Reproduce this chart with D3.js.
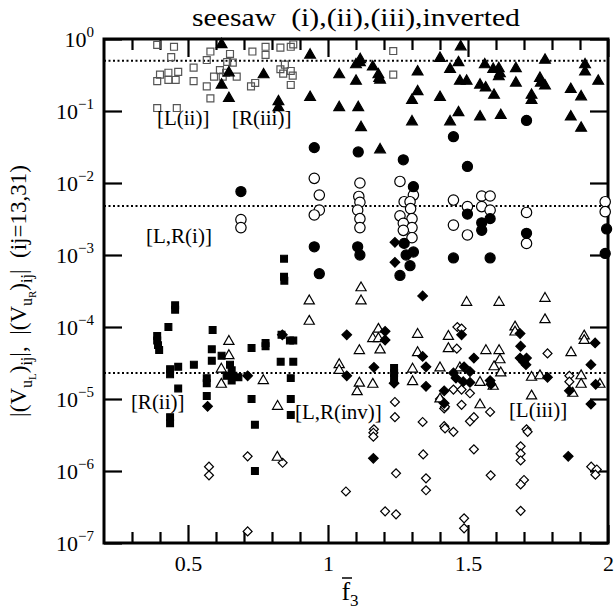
<!DOCTYPE html>
<html>
<head>
<meta charset="utf-8">
<script src="https://cdn.jsdelivr.net/npm/d3@7"></script>
<style>
  body { margin: 0; background: #fff; }
  text { font-family: "Liberation Serif", "Times New Roman", serif; fill: #000; }
</style>
</head>
<body>
<svg id="chart" width="615" height="612"></svg>
<script>
// ---- data (f3, |V|) ----
var xMajor = [0.5, 1, 1.5, 2];
var xMinor = [0.3, 0.4, 0.6, 0.7, 0.8, 0.9, 1.1, 1.2, 1.3, 1.4, 1.6, 1.7, 1.8, 1.9];
var yExps = [0, -1, -2, -3, -4, -5, -6, -7];
var refLines = [0.5, 4.8e-3, 2.3e-5];

// [L(ii)] open squares
var openSquares = [
  [0.39,0.83],[0.45,0.78],[0.44,0.56],[0.40,0.32],[0.39,0.26],[0.43,0.34],[0.43,0.27],
  [0.465,0.35],[0.456,0.27],[0.52,0.40],[0.52,0.26],[0.39,0.11],[0.46,0.11],[0.58,0.67],
  [0.567,0.51],[0.65,0.62],[0.73,0.67],[0.64,0.48],[0.66,0.47],[0.614,0.37],[0.624,0.30],
  [0.593,0.30],[0.567,0.22],[0.674,0.30],[0.58,0.15],[0.725,0.22],[0.636,0.34],[0.74,0.245],
  [0.777,0.78],[0.777,0.60],[0.83,0.76],[0.867,0.78],[0.876,0.84],[0.83,0.38],[0.84,0.33],
  [0.867,0.36],[0.874,0.31],[0.867,0.23],[0.846,0.44],[1.233,0.68],[1.233,0.32]
];

// [R(iii)] filled triangles
var filledTriangles = [
  [0.62,0.84],[0.646,0.34],[0.62,0.23],[0.646,0.15],[0.77,0.32],[0.823,0.135],[0.823,0.112],
  [0.936,0.60],[0.936,0.155],[1.04,0.32],[1.04,0.112],[1.10,0.26],[1.108,0.112],[1.118,0.059],
  [1.115,0.52],[1.10,0.44],[1.114,0.47],[1.16,0.41],[1.18,0.32],[1.183,0.285],[1.186,0.27],
  [1.32,0.35],[1.32,0.186],[1.30,0.141],[1.30,0.071],[1.40,0.54],[1.40,0.155],[1.474,0.78],
  [1.436,0.38],[1.466,0.47],[1.56,0.44],[1.59,0.38],[1.61,0.39],[1.614,0.33],[1.61,0.30],
  [1.671,0.39],[1.671,0.245],[1.775,0.51],[1.918,0.44],[1.918,0.35],[1.965,0.26],[1.471,0.26],
  [1.495,0.26],[1.543,0.23],[1.563,0.21],[1.593,0.166],[1.757,0.285],[1.76,0.245],[1.775,0.224],
  [1.727,0.166],[1.727,0.141],[1.867,0.20],[1.904,0.158],[1.466,0.095],[1.436,0.071],
  [1.543,0.083],[1.617,0.087],[1.867,0.083],[1.904,0.058],[1.186,0.029]
];

// [L,R(i)] filled circles
var filledCircles = [
  [0.689,7.6e-3],[0.951,3.1e-2],[1.108,2.7e-2],[1.269,2.1e-2],[1.448,4.4e-2],[1.709,7.4e-2],
  [1.498,1.7e-2],[0.951,1.3e-3],[0.969,5.5e-4],[1.106,1.3e-3],[1.114,1.0e-3],[1.305,8.9e-3],
  [1.272,1.45e-3],[1.305,1.1e-3],[1.279,1.0e-3],[1.293,7.1e-4],[1.257,5.2e-4],[1.498,3.7e-3],
  [1.549,2.8e-3],[1.549,2.2e-3],[1.579,3.2e-3],[1.448,9.1e-4],[1.579,9.1e-4],[1.709,2.0e-3],
  [1.995,2.3e-3],[1.99,1.05e-3]
];

// [L,R(i)] open circles
var openCircles = [
  [0.689,3.1e-3],[0.689,2.4e-3],[0.951,1.16e-2],[0.969,6.8e-3],[0.969,4.2e-3],[0.951,3.6e-3],
  [1.114,1.0e-2],[1.11,6.5e-3],[1.114,5.4e-3],[1.106,4.2e-3],[1.114,3.2e-3],[1.114,2.4e-3],
  [1.257,1.05e-2],[1.305,6.8e-3],[1.272,5.5e-3],[1.293,5.5e-3],[1.295,4.4e-3],[1.257,3.5e-3],
  [1.30,3.2e-3],[1.269,2.75e-3],[1.30,2.4e-3],[1.269,2.2e-3],[1.30,1.74e-3],[1.448,5.8e-3],
  [1.498,4.7e-3],[1.448,2.6e-3],[1.498,1.9e-3],[1.549,6.6e-3],[1.579,6.6e-3],[1.549,4.7e-3],
  [1.579,4.2e-3],[1.709,3.9e-3],[1.709,1.45e-3],[1.99,5.5e-3],[1.99,4.0e-3]
];

// [R(ii)] filled squares
var filledSquares = [
  [0.454,2.0e-4],[0.454,1.74e-4],[0.43,1.0e-4],[0.39,7.5e-5],[0.39,6.5e-5],[0.393,5.6e-5],
  [0.397,4.8e-5],[0.588,9.1e-5],[0.585,4.9e-5],[0.585,3.4e-5],[0.62,4.0e-5],[0.521,3.0e-5],
  [0.465,2.8e-5],[0.436,2.6e-5],[0.436,2.2e-5],[0.567,1.95e-5],[0.567,1.66e-5],[0.465,1.4e-5],
  [0.567,1.1e-5],[0.436,5.6e-6],[0.727,5.1e-5],[0.65,3.0e-5],[0.656,2.5e-5],[0.662,2.1e-5],
  [0.68,2.0e-5],[0.656,1.8e-5],[0.638,2.1e-5],[0.727,1.0e-5],[0.739,4.4e-6],[0.844,4.4e-4],
  [0.843,8.9e-4],[0.843,5.0e-4],[0.777,6.0e-5],[0.777,5.4e-5],[0.834,7.8e-5],[0.864,6.5e-5],
  [0.876,6.5e-5],[0.831,3.3e-5],[0.876,3.3e-5],[0.867,1.95e-5],[0.867,1.0e-5],[0.867,6.0e-6],
  [1.236,2.7e-5],[1.236,2.3e-5],[1.236,1.95e-5],[0.436,4.6e-6],[0.739,1.0e-6]
];

// [L,R(inv)] filled diamonds
var filledDiamonds = [
  [1.239,1.5e-3],[1.239,7.9e-4],[0.713,2.1e-5],[0.57,7.9e-6],[0.837,7.8e-5],[1.067,7.8e-5],
  [1.338,2.7e-4],[1.204,8.7e-5],[1.204,6.6e-5],[1.164,2.75e-5],[1.067,2.1e-5],[1.236,1.66e-5],
  [1.338,3.9e-5],[1.35,2.8e-5],[1.35,1.5e-5],[1.415,1.3e-5],[1.415,8.7e-6],[1.477,7.8e-5],
  [1.448,2.3e-5],[1.457,1.95e-5],[1.486,2.8e-5],[1.507,2.4e-5],[1.521,3.7e-5],[1.483,1.74e-5],
  [1.507,1.7e-5],[1.686,8.1e-5],[1.688,5.4e-5],[1.686,3.7e-5],[1.698,3.3e-5],[1.709,3.7e-5],
  [1.707,3.0e-5],[1.579,1.8e-5],[1.582,1.6e-5],[1.784,2.0e-5],[1.862,1.3e-5],[1.954,6.0e-5],
  [1.939,3.0e-5],[1.956,1.6e-5],[1.939,8.5e-6],[1.162,1.5e-6],[1.858,1.6e-6]
];

// [L(iii)] open triangles
var openTriangles = [
  [0.646,6.3e-5],[0.646,4.0e-5],[0.619,2.6e-5],[0.619,1.6e-5],[1.118,3.5e-4],[1.118,2.3e-4],
  [0.933,2.3e-4],[0.933,1.2e-4],[1.18,9.3e-5],[1.16,6.9e-5],[1.18,6.9e-5],[1.186,4.8e-5],
  [1.112,4.7e-5],[1.32,7.9e-5],[1.32,4.4e-5],[1.04,3.0e-5],[1.04,2.5e-5],[1.302,2.6e-5],
  [1.40,2.7e-5],[0.769,1.8e-5],[1.112,1.66e-5],[1.104,1.26e-5],[1.16,1.6e-5],[1.302,1.74e-5],
  [0.82,7.9e-6],[1.43,7.4e-5],[1.43,5.0e-5],[1.40,1.0e-5],[1.495,2.2e-4],[1.611,2.2e-4],
  [1.775,2.5e-4],[1.775,1.26e-4],[1.564,4.7e-5],[1.611,4.7e-5],[1.614,3.5e-5],[1.593,2.8e-5],
  [1.617,2.3e-5],[1.668,1.0e-4],[1.668,8.5e-5],[1.471,2.7e-5],[1.543,1.7e-5],[1.59,1.5e-5],
  [1.727,2.0e-5],[1.757,2.1e-5],[1.868,4.4e-5],[1.915,7.5e-5],[1.915,6.5e-5],[1.904,2.1e-5],
  [1.904,1.6e-5],[1.971,1.6e-5],[1.874,1.2e-5],[1.543,8.3e-6],[1.727,1.1e-5],[0.819,1.55e-6]
];

// [L,R(inv)] open diamonds
var openDiamonds = [
  [1.239,9.1e-6],[1.239,5.6e-6],[1.338,4.8e-6],[1.415,7.4e-6],[1.415,4.2e-6],[1.164,3.8e-6],
  [1.462,1.0e-4],[1.477,9.5e-5],[1.46,5.0e-5],[1.448,1.35e-5],[1.477,1.35e-5],[1.507,1.2e-5],
  [1.40,1.0e-5],[1.418,7.8e-6],[1.477,8.3e-6],[1.507,4.9e-6],[1.521,5.6e-6],[1.579,6.6e-6],
  [1.784,4.3e-5],[1.862,2.1e-5],[1.862,1.74e-5],[1.709,3.8e-6],[0.575,1.15e-6],[0.575,8.7e-7],
  [0.713,1.6e-6],[0.713,1.45e-7],[0.838,1.3e-6],[1.162,3.4e-6],[1.162,3.0e-6],[1.064,5.2e-7],
  [1.243,9.3e-7],[1.204,2.75e-7],[1.243,2.5e-7],[1.34,1.7e-6],[1.35,7.9e-7],[1.35,5.4e-7],
  [1.418,3.9e-6],[1.448,3.5e-6],[1.521,2.0e-6],[1.581,8.7e-7],[1.486,2.2e-7],[1.486,1.6e-7],
  [1.688,2.2e-6],[1.688,1.74e-6],[1.688,1.4e-6],[1.713,3.5e-6],[1.70,7.5e-7],[1.688,6.5e-7],
  [1.688,2.8e-7],[1.94,1.15e-6],[1.96,1.05e-6],[1.955,8.9e-7]
];

// group labels: text, f3, value at baseline-left
var groupLabels = [
  ["[L(ii)]", 0.389, 6.4e-2],
  ["[R(iii)]", 0.657, 6.4e-2],
  ["[L,R(i)]", 0.35, 1.47e-3],
  ["[R(ii)]", 0.296, 7.3e-6],
  ["[L,R(inv)]", 0.882, 5.3e-6],
  ["[L(iii)]", 1.646, 5.6e-6]
];

// ---- chart ----
var svg = d3.select("#chart");
var pLeft = 104, pRight = 608, pTop = 39, pBottom = 543;

var x = d3.scaleLinear().domain([0.2, 2]).range([pLeft, pRight]);
var y = d3.scaleLog().domain([1e-7, 1]).range([pBottom, pTop]);

// reference dotted lines
svg.selectAll("line.ref")
  .data(refLines)
  .enter().append("line")
    .attr("class", "ref")
    .attr("x1", pLeft).attr("x2", pRight)
    .attr("y1", function(d) { return y(d); })
    .attr("y2", function(d) { return y(d); })
    .attr("stroke", "#000")
    .attr("stroke-width", 2)
    .attr("stroke-dasharray", "2,2.5");

function tidy(g) {
  g.select(".domain").remove();
  g.selectAll(".tick line").attr("stroke", "#000").attr("stroke-width", 2.2);
}

// x ticks, bottom + top
svg.append("g").attr("transform", "translate(0," + pBottom + ")")
  .call(d3.axisBottom(x).tickValues(xMinor).tickSize(-11).tickFormat(""))
  .call(tidy);
svg.append("g").attr("transform", "translate(0," + pBottom + ")")
  .call(d3.axisBottom(x).tickValues(xMajor).tickSize(-18).tickPadding(12)
    .tickFormat(d3.format("")))
  .call(tidy)
  .selectAll("text")
    .attr("font-size", 22)
    .style("font-family", "'Liberation Serif', serif");
svg.append("g").attr("transform", "translate(0," + pTop + ")")
  .call(d3.axisTop(x).tickValues(xMinor).tickSize(-11).tickFormat(""))
  .call(tidy);
svg.append("g").attr("transform", "translate(0," + pTop + ")")
  .call(d3.axisTop(x).tickValues(xMajor).tickSize(-18).tickFormat(""))
  .call(tidy);

// y ticks, left + right
var yTickVals = yExps.map(function(e) { return Math.pow(10, e); });
var yLeft = svg.append("g").attr("transform", "translate(" + pLeft + ",0)")
  .call(d3.axisLeft(y).tickValues(yTickVals).tickSize(-18).tickPadding(10).tickFormat(""))
  .call(tidy);
svg.append("g").attr("transform", "translate(" + pRight + ",0)")
  .call(d3.axisRight(y).tickValues(yTickVals).tickSize(-18).tickFormat(""))
  .call(tidy);

// 10^n labels
yLeft.selectAll(".tick text")
  .attr("font-size", 22)
  .style("font-family", "'Liberation Serif', serif")
  .attr("dy", "0.36em")
  .each(function(d) {
    var t = d3.select(this);
    var e = Math.round(Math.log10(d));
    t.text(null);
    t.append("tspan").text("10");
    t.append("tspan").attr("font-size", 15).attr("dy", -10)
      .text(e === 0 ? "0" : "\u2212" + (-e));
  });

// frame
svg.append("rect")
  .attr("x", pLeft).attr("y", pTop)
  .attr("width", pRight - pLeft).attr("height", pBottom - pTop)
  .attr("fill", "none").attr("stroke", "#000").attr("stroke-width", 3);

// markers
var sq = d3.symbol().type(d3.symbolSquare);
var tri = d3.symbol().type(d3.symbolTriangle);
var circ = d3.symbol().type(d3.symbolCircle);

function plot(data, sym, size, fill, stroke, rot) {
  svg.append("g").selectAll("path")
    .data(data)
    .enter().append("path")
      .attr("d", sym.size(size)())
      .attr("transform", function(d) {
        return "translate(" + x(d[0]) + "," + y(d[1]) + ")" + (rot ? " rotate(45)" : "");
      })
      .attr("fill", fill)
      .attr("stroke", stroke)
      .attr("stroke-width", 1.2);
}

plot(openSquares, sq, 48, "none", "#555", false);
plot(openDiamonds, sq, 40, "#fff", "#000", true);
plot(openTriangles, tri, 45, "#fff", "#000", false);
plot(filledDiamonds, sq, 46, "#000", "#000", true);
plot(filledSquares, sq, 46, "#000", "#000", false);
plot(openCircles, circ, 85, "#fff", "#000", false);
plot(filledCircles, circ, 80, "#000", "#000", false);
plot(filledTriangles, tri, 50, "#000", "#000", false);

// group labels
svg.selectAll("text.grp")
  .data(groupLabels)
  .enter().append("text")
    .attr("class", "grp")
    .attr("x", function(d) { return x(d[1]); })
    .attr("y", function(d) { return y(d[2]); })
    .attr("font-size", 21)
    .text(function(d) { return d[0]; });

// title
svg.append("text")
  .attr("x", (pLeft + pRight) / 2).attr("y", 26)
  .attr("text-anchor", "middle")
  .attr("font-size", 26)
  .attr("textLength", 328)
  .attr("lengthAdjust", "spacingAndGlyphs")
  .text("seesaw\u00a0\u00a0(i),(ii),(iii),inverted");

// x label: f-bar with subscript 3
var xl = svg.append("text")
  .attr("x", (pLeft + pRight) / 2 - 6).attr("y", 600)
  .attr("text-anchor", "middle")
  .attr("font-size", 26);
xl.append("tspan").text("f");
xl.append("tspan").attr("font-size", 17).attr("dy", 6).text("3");
svg.append("line")
  .attr("x1", (pLeft + pRight) / 2 - 14).attr("x2", (pLeft + pRight) / 2 - 4)
  .attr("y1", 578).attr("y2", 578)
  .attr("stroke", "#000").attr("stroke-width", 1.5);

// y label
var yl = svg.append("text")
  .attr("transform", "translate(26," + ((pTop + pBottom) / 2) + ") rotate(-90)")
  .attr("text-anchor", "middle")
  .attr("font-size", 23);
function part(txt, size, dy) {
  var s = yl.append("tspan").text(txt);
  if (size) s.attr("font-size", size);
  if (dy) s.attr("dy", dy);
}
part("|(V");
part("u", 16, 6);
part("L", 11, 4);
part(")", null, -10);
part("ij", 16, 6);
part("|,\u00a0\u00a0|(V", null, -6);
part("u", 16, 6);
part("R", 11, 4);
part(")", null, -10);
part("ij", 16, 6);
part("|\u00a0\u00a0(ij=13,31)", null, -6);
</script>
</body>
</html>
